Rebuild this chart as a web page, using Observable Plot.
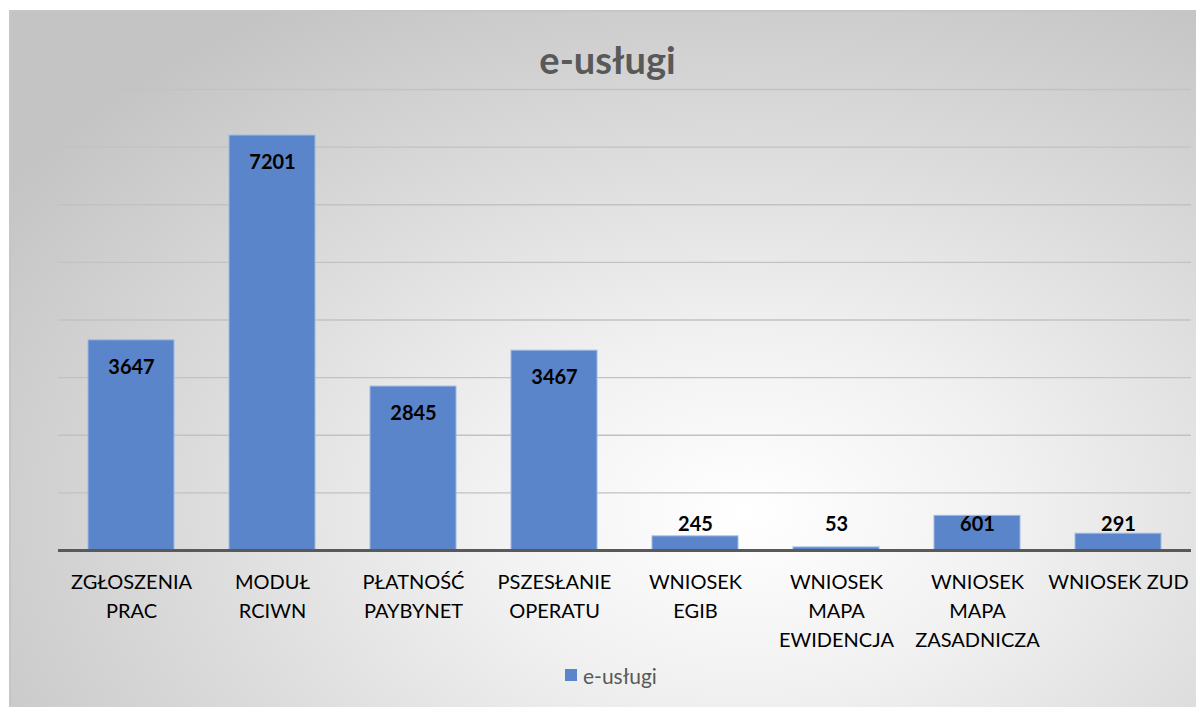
<!DOCTYPE html>
<html>
<head>
<meta charset="utf-8">
<script src="https://cdn.jsdelivr.net/npm/d3@7"></script>
<script src="https://cdn.jsdelivr.net/npm/@observablehq/plot@0.6"></script>
<style>
  html, body { margin: 0; padding: 0; background: #ffffff; }
  body { width: 1196px; height: 707px; overflow: hidden; position: relative; font-family: Lato, "Open Sans", sans-serif; }
  #frame {
    position: absolute; left: 9px; top: 10px; width: 1187px; height: 697px;
    box-sizing: border-box;
    border-top: 2px solid #c6c6c6; border-left: 2px solid #c6c6c6;
    background: radial-gradient(ellipse 75% 85% at 62% 72%, #ffffff 0%, #f1f1f1 30%, #dcdcdc 62%, #c4c4c4 100%);
  }
  #plot { position: absolute; left: 0; top: 0; }
  #title {
    position: absolute; left: 0; width: 1215px; top: 35px; text-align: center;
    font-family: Lato, sans-serif; font-weight: bold; font-size: 38px; color: #595959; line-height: 48px;
  }
  #legend {
    position: absolute; left: 565px; top: 661px; height: 28px;
    display: flex; align-items: center; font-family: Lato, sans-serif; font-size: 21px; color: #595959;
  }
  #legend .sw { width: 12px; height: 12px; background: #5b85ca; margin-right: 6px; }
</style>
</head>
<body>
<div id="frame"></div>
<div id="plot"></div>
<div id="title"></div>
<div id="legend"><span class="sw"></span><span id="legtext"></span></div>
<script>
const seriesName = "e-usługi";
const categories = [
  "ZGŁOSZENIA\nPRAC",
  "MODUŁ\nRCIWN",
  "PŁATNOŚĆ\nPAYBYNET",
  "PSZESŁANIE\nOPERATU",
  "WNIOSEK\nEGIB",
  "WNIOSEK\nMAPA\nEWIDENCJA",
  "WNIOSEK\nMAPA\nZASADNICZA",
  "WNIOSEK ZUD"
];
const values = [3647, 7201, 2845, 3467, 245, 53, 601, 291];
const yTicks = [1000, 2000, 3000, 4000, 5000, 6000, 7000, 8000];

const data = categories.map((c, i) => ({cat: c, value: values[i]}));

document.getElementById("title").textContent = seriesName;
document.getElementById("legtext").textContent = seriesName;

const chart = Plot.plot({
  width: 1196,
  height: 660,
  marginTop: 89,
  marginBottom: 110,
  marginLeft: 58,
  marginRight: 5,
  style: {background: "transparent", fontFamily: "Lato, sans-serif", overflow: "visible"},
  x: {domain: categories, paddingInner: 0.39, paddingOuter: 0.195, label: null},
  y: {domain: [0, 8000], label: null, axis: null},
  marks: [
    Plot.gridY(yTicks, {stroke: "#c2c2c2", strokeOpacity: 1, strokeWidth: 1.3}),
    Plot.barY(data, {x: "cat", y: "value", fill: "#5b85ca", stroke: "#9fb8e3", strokeWidth: 1}),
    Plot.ruleY([0], {stroke: "#595959", strokeWidth: 3}),
    Plot.text(data, {
      x: "cat",
      y: d => Math.max(d.value, 919),
      dy: 27,
      text: d => String(d.value),
      fontWeight: "bold",
      fontSize: 20,
      fill: "#000000"
    }),
    Plot.axisX({
      tickSize: 0,
      tickPadding: 18,
      fontSize: 20,
      lineHeight: 1.45,
      fill: "#000000",
      label: null
    })
  ]
});
document.getElementById("plot").appendChild(chart);
</script>
</body>
</html>
